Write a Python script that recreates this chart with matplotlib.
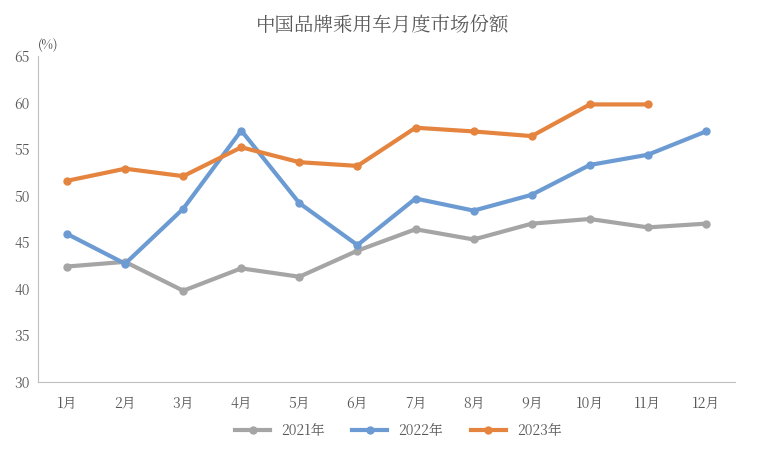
import matplotlib.pyplot as plt
from matplotlib import font_manager

# pick whichever CJK font is actually installed
cjk = [f.name for f in font_manager.fontManager.ttflist if 'CJK' in f.name]
plt.rcParams['font.family'] = (cjk[:1] or ['Noto Sans CJK SC']) + ['DejaVu Sans']

months = ['1月', '2月', '3月', '4月', '5月', '6月', '7月', '8月', '9月', '10月', '11月', '12月']
share_2021 = [42.4, 42.9, 39.8, 42.2, 41.3, 44.1, 46.4, 45.3, 47.0, 47.5, 46.6, 47.0]
share_2022 = [45.9, 42.7, 48.6, 57.0, 49.2, 44.7, 49.7, 48.4, 50.1, 53.3, 54.4, 56.9]
share_2023 = [51.6, 52.9, 52.1, 55.2, 53.6, 53.2, 57.3, 56.9, 56.4, 59.8, 59.8]

fig = plt.figure(figsize=(7.66, 4.51), dpi=100)
ax = fig.add_axes([38 / 766, 1 - 382 / 451, 697 / 766, 326 / 451])

x = list(range(len(months)))
ax.plot(x, share_2021, color='#a5a5a5', lw=3, marker='o', ms=5, label='2021年')
ax.plot(x, share_2022, color='#6b9bd2', lw=3, marker='o', ms=5, label='2022年')
ax.plot(x[:len(share_2023)], share_2023, color='#e4843f', lw=3, marker='o', ms=5, label='2023年')

ax.set_xlim(-0.5, 11.5)
ax.set_ylim(30, 65)
ax.set_yticks(range(30, 66, 5))
ax.set_xticks(x)
ax.set_xticklabels(months)
for s in ['top', 'right']:
    ax.spines[s].set_visible(False)
for s in ['left', 'bottom']:
    ax.spines[s].set_color('#bfbfbf')
ax.tick_params(length=0, labelsize=10, colors='#595959', pad=6)
ax.tick_params(axis='x', pad=10)

ax.text(0.0, 1.02, '(%)', transform=ax.transAxes, fontsize=9, color='#404040')
fig.suptitle('中国品牌乘用车月度市场份额', y=0.965, fontsize=14, color='#595959')
fig.legend(loc='lower center', ncol=3, frameon=False, fontsize=10, bbox_to_anchor=(0.52, 0.0),
           handlelength=2.5, labelcolor='#595959')

fig.savefig('out.png')
